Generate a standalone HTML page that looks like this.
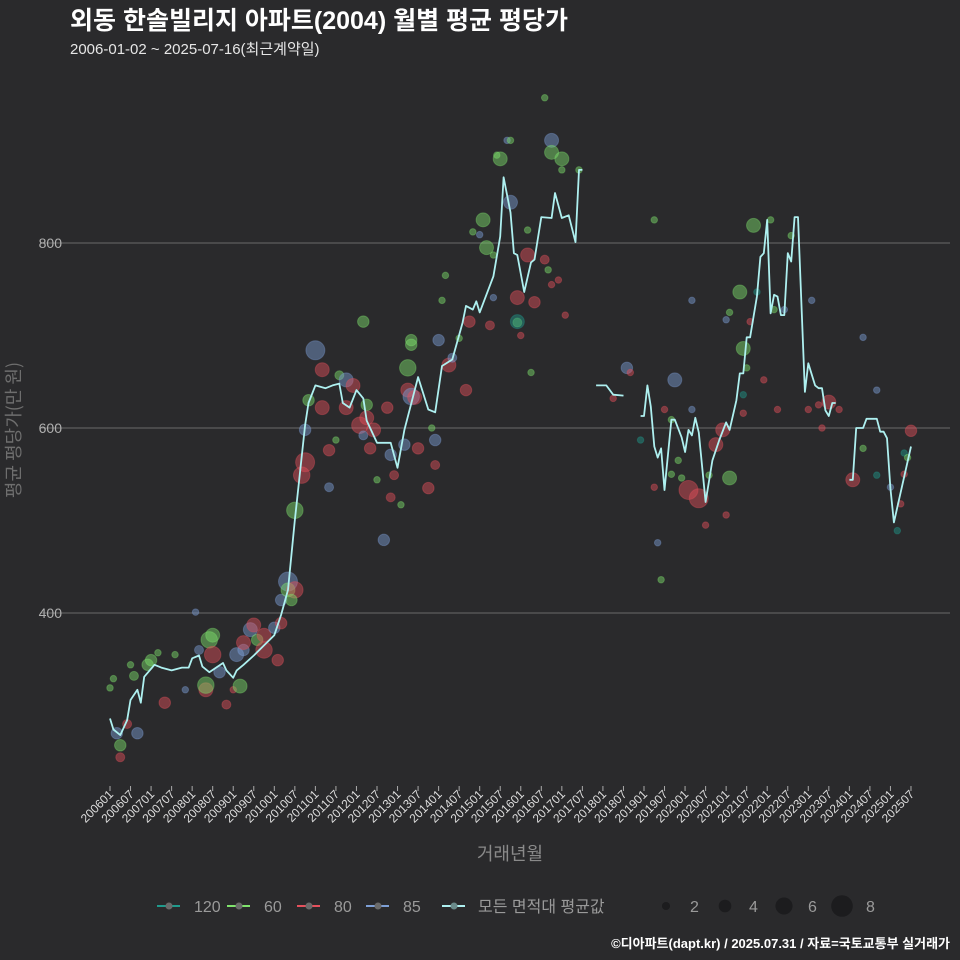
<!DOCTYPE html>
<html><head><meta charset="utf-8">
<style>
html,body{margin:0;padding:0;background:#2a2a2c;}
svg{display:block;font-family:"Liberation Sans","Noto Sans CJK KR",sans-serif;}
</style></head>
<body>
<svg id="chart" width="960" height="960" viewBox="0 0 960 960" xmlns="http://www.w3.org/2000/svg">
<rect width="960" height="960" fill="#2a2a2c"/>
<text x="70" y="29" fill="#ffffff" font-size="25" font-weight="bold">외동 한솔빌리지 아파트(2004) 월별 평균 평당가</text>
<text x="70" y="54" fill="#e6e6e6" font-size="15">2006-01-02 ~ 2025-07-16(최근계약일)</text>
<text transform="translate(20,430) rotate(-90)" text-anchor="middle" fill="#6e6e6e" font-size="18" style="font-family:'Noto Sans CJK KR',sans-serif">평균 평당가(만 원)</text>
<text x="510" y="860" text-anchor="middle" fill="#8a8a8a" font-size="18">거래년월</text>
<g id="grid"></g>
<g id="points"></g>
<g id="lines"></g>
<g id="xaxis"></g>
<g id="legend"></g>
<text x="950" y="948" text-anchor="end" fill="#ffffff" font-size="13" font-weight="bold">©디아파트(dapt.kr) / 2025.07.31 / 자료=국토교통부 실거래가</text>
</svg>
<script>
// ---- data ----
const yTicks = [400, 600, 800];
const xTickLabels = ["200601","200607","200701","200707","200801","200807","200901","200907","201001","201007","201101","201107","201201","201207","201301","201307","201401","201407","201501","201507","201601","201607","201701","201707","201801","201807","201901","201907","202001","202007","202101","202107","202201","202207","202301","202307","202401","202407","202501","202507"];
// line: month index since 2006-01, null value = gap
const lineMonths = [0,1,3,5,6,8,9,10,13,15,18,21,23,24,26,27,29,31,33,34,36,37,39,42,45,48,50,52,54,57,58,60,63,65,67,68,70,72,74,75,78,82,84,86,90,93,95,97,100,103,104,106,107,108,112,114,115,117,118,119,121,123,124,126,129,130,132,134,136,137,138,139,
142,145,147,150,151,
155,156,157,158,159,160,161,162,164,165,167,168,169,170,171,172,174,176,178,180,181,183,184,185,186,187,189,190,191,192,193,194,195,196,197,198,199,200,201,203,204,206,207,208,209,210,211,212,213,
216,217,218,220,221,224,225,226,227,228,229,234];
const lineValues = [286,274,268,284,306,317,303,331,344,341,338,341,341,351,354,342,336,341,346,338,330,338,344,354,365,376,398,425,500,603,627,646,643,646,648,627,622,641,632,608,584,584,557,598,655,620,617,667,674,714,732,728,737,725,764,807,871,833,789,787,747,779,782,828,827,854,827,830,801,879,879,null,
646,646,636,635,null,
613,613,646,623,580,568,578,533,609,609,590,574,598,592,611,595,520,565,587,606,598,630,659,659,698,698,742,785,789,825,724,744,742,722,722,789,780,828,828,639,670,646,643,643,619,613,627,627,null,
544,544,600,600,610,610,596,596,589,535,498,580];
// scatter: month, value, area type, count
const ptMonths = [0,1,2,3,3,5,6,7,8,11,12,14,16,19,
22,25,26,28,29,30,30,28,32,34,36,37,39,38,39,41,42,43,45,45,48,49,50,50,52,52,54,53,54,56,57,57,58,60,
62,62,64,64,66,67,69,69,71,73,74,74,75,75,76,77,78,80,81,82,82,83,85,86,87,87,88,88,88,89,90,93,94,95,95,96,97,98,99,100,
102,104,105,106,108,109,111,112,112,110,113,114,116,117,117,119,119,120,119,122,122,123,124,127,129,129,127,128,129,131,132,132,133,137,
147,151,152,155,159,159,160,161,162,164,164,165,166,167,169,172,170,170,174,175,177,179,180,181,180,181,
184,185,185,185,186,187,188,189,191,193,194,195,197,199,205,204,207,208,210,213,217,220,220,
224,224,228,230,231,234,232,233,232];
const ptValues = [319,329,270,257,244,280,344,332,270,344,349,357,303,355,317,401,360,317,371,376,355,322,336,301,317,355,360,321,368,382,387,371,376,360,384,349,414,389,434,425,425,414,511,549,563,598,630,684,663,622,576,536,587,657,652,622,646,603,715,592,625,611,578,598,544,479,622,525,571,549,517,582,641,665,690,695,634,633,578,535,600,560,587,695,738,765,668,676,697,641,715,812,809,825,711,741,787,795,895,891,911,911,844,741,714,700,715,814,787,660,736,957,911,898,782,771,755,760,891,879,722,879,632,665,660,587,825,536,476,436,620,609,550,652,565,546,533,524,738,620,495,549,582,598,506,546,717,725,747,636,686,616,665,715,819,747,652,825,728,620,728,808,738,620,625,600,628,620,544,578,698,549,641,536,489,518,597,573,568,550];
const ptTypes = ["60","60","85","60","80","80","60","60","85","60","60","60","80","60","85","85","85","80","60","60","80","60","85","80","80","85","85","60","80","85","80","60","80","80","85","80","85","80","85","60","80","60","60","80","80","85","60","85","80","80","80","85","60","60","85","80","80","80","60","85","60","80","80","80","60","85","80","80","85","80","60","85","80","60","60","60","85","80","80","80","60","80","85","85","60","60","80","85","60","80","80","60","85","60","80","85","60","60","60","60","85","60","85","80","60","80","120","60","80","60","80","60","85","60","80","60","80","80","60","60","80","60","80","85","80","120","60","80","85","60","80","60","60","85","60","60","80","80","85","85","80","60","80","80","80","60","85","60","60","120","60","80","60","80","60","120","80","60","60","80","85","60","85","80","80","80","80","80","80","60","85","120","85","85","120","80","80","120","60","80"];
const ptCounts = [1,1,3,3,2,2,1,2,3,3,3,1,3,1,1,1,2,4,5,4,5,5,3,2,1,4,3,4,4,4,4,3,4,5,3,3,3,3,6,4,5,3,5,5,6,3,3,6,4,4,3,2,1,2,4,4,4,5,3,2,3,4,3,4,1,3,3,2,3,2,1,3,4,5,3,3,5,4,3,3,1,2,3,3,1,1,4,2,1,3,3,1,1,4,2,1,1,4,1,4,1,1,4,4,2,1,4,1,4,1,3,1,4,4,2,1,1,1,4,1,1,1,1,3,1,1,1,1,1,1,1,1,1,4,1,1,6,6,1,1,1,1,4,4,1,4,1,1,4,1,4,1,1,1,4,1,1,1,1,1,1,1,1,1,1,1,4,1,4,1,1,1,1,1,1,1,3,1,1,1];
const typeColors = {"120":"#1f9a8c","60":"#7fe36c","80":"#e5505c","85":"#7d9fd6"};
const legendTypes = ["120","60","80","85"];
const sizeLegend = [2,4,6,8];

// ---- scales ----
const NS = "http://www.w3.org/2000/svg";
function xS(m){ return 110 + m * 3.423; }
function yS(v){ return 613 - (v - 400) * 0.925; }
function rS(n){ return 2 + 1.25 * n; }
function mk(tag, attrs, parent){ const e=document.createElementNS(NS,tag); for(const k in attrs) e.setAttribute(k,attrs[k]); parent.appendChild(e); return e; }

const grid = document.getElementById('grid');
yTicks.forEach(v=>{
  const l = mk('line',{x1:40,x2:950,y1:yS(v),y2:yS(v),stroke:'#6a6a6a','stroke-width':1},grid);
  
  
  const t = mk('text',{x:62,y:yS(v)+5,'text-anchor':'end',fill:'#b0b0b0','font-size':14},grid);
  t.textContent = v;
  
  
});

const pts = document.getElementById('points');
ptMonths.forEach((m,i)=>{
  const c = mk('circle',{cx:xS(m),cy:yS(ptValues[i]),r:rS(ptCounts[i]),fill:typeColors[ptTypes[i]],'fill-opacity':0.45,stroke:typeColors[ptTypes[i]],'stroke-opacity':0.35},pts);
  
  
});

const lines = document.getElementById('lines');
let seg = [];
function flush(){
  if(seg.length>1){
    const p = mk('polyline',{points:seg.join(' '),fill:'none',stroke:'#aef0f0','stroke-width':1.8,'stroke-linejoin':'round'},lines);
    
    
  }
  seg=[];
}
lineMonths.forEach((m,i)=>{
  if(lineValues[i]===null){ flush(); return; }
  seg.push(xS(m).toFixed(1)+','+yS(lineValues[i]).toFixed(1));
});
flush();

const xa = document.getElementById('xaxis');
xTickLabels.forEach((lab,i)=>{
  const x = xS(i*6);
  const tk = mk('line',{x1:x,x2:x,y1:786,y2:791,stroke:'#aaaaaa','stroke-width':1},xa);
  
  
  const t = mk('text',{transform:'translate('+(x+4)+',795) rotate(-45)','text-anchor':'end',fill:'#dddddd','font-size':12},xa);
  t.textContent = lab;
  
  
});

const lg = document.getElementById('legend');
const lgX = [157,227,297,366];
legendTypes.forEach((tp,i)=>{
  const x = lgX[i];
  const l = mk('line',{x1:x,x2:x+23,y1:906,y2:906,stroke:typeColors[tp],'stroke-width':2},lg);
  
  
  const c = mk('circle',{cx:x+12,cy:906,r:3.5,fill:'#6a6a6a'},lg);
  
  
  const t = mk('text',{x:x+37,y:912,fill:'#9a9a9a','font-size':16},lg);
  t.textContent = tp;
  
  
});
{
  const x = 442;
  const l = mk('line',{x1:x,x2:x+23,y1:906,y2:906,stroke:'#aef0f0','stroke-width':2},lg);
  
  
  const c = mk('circle',{cx:x+12,cy:906,r:3.5,fill:'#6a8a8a'},lg);
  
  
  const t = mk('text',{x:x+36,y:912,fill:'#9a9a9a','font-size':16},lg);
  t.textContent = '모든 면적대 평균값';
  
  
}
const szX = [666,725,784,842];
sizeLegend.forEach((n,i)=>{
  const c = mk('circle',{cx:szX[i],cy:906,r:rS(n)*0.9,fill:'#1c1c1e'},lg);
  
  
  const t = mk('text',{x:szX[i]+24,y:912,fill:'#9a9a9a','font-size':16},lg);
  t.textContent = n;
  
  
});
</script>
</body></html>
